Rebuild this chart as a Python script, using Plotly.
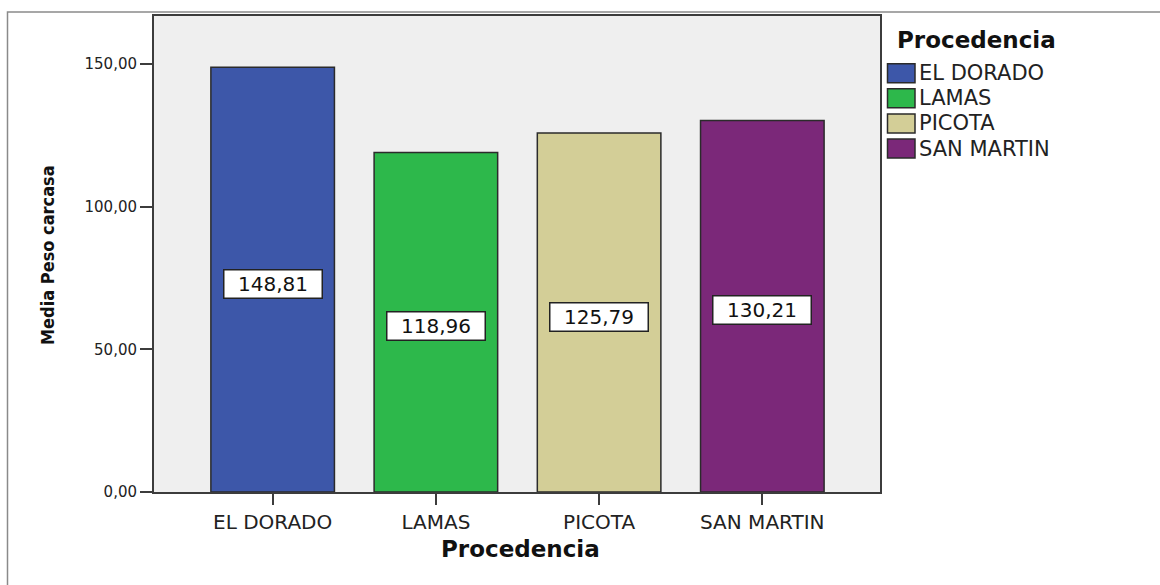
import plotly.graph_objects as go

# Mean carcass weight by origin
categories = ["EL DORADO", "LAMAS", "PICOTA", "SAN MARTIN"]
mean_weight = [148.81, 118.96, 125.79, 130.21]
value_labels = ["148,81", "118,96", "125,79", "130,21"]
bar_colors = ["#3D57A9", "#2DB84B", "#D3CE97", "#7B2879"]
y_tick_values = [0, 50, 100, 150]
y_tick_labels = ["0,00", "50,00", "100,00", "150,00"]

W, H = 1160, 585
M_L, M_R, M_T, M_B = 154, 280, 16, 93
PLOT_W = W - M_L - M_R
PLOT_H = H - M_T - M_B


def px_x(p):
    return (p - M_L) / PLOT_W


def px_y(p):
    return (H - M_B - p) / PLOT_H


fig = go.Figure()
fig.add_trace(go.Bar(
    x=categories,
    y=mean_weight,
    width=0.757,
    marker=dict(color=bar_colors, line=dict(color="#2b2b2b", width=1.5)),
    showlegend=False,
    hoverinfo="x+y",
))

annotations = []
# value boxes in the middle of each bar
for cat, v, lab in zip(categories, mean_weight, value_labels):
    annotations.append(dict(
        x=cat, y=v / 2, xref="x", yref="y", text=lab, showarrow=False,
        yshift=-4, width=95, height=25, align="center",
        bgcolor="white", bordercolor="#222", borderwidth=1.5, borderpad=1,
        font=dict(family="DejaVu Sans", size=20, color="#111"),
    ))

# legend block
annotations.append(dict(
    x=px_x(895), y=px_y(39.5), xref="paper", yref="paper", text="<b>Procedencia</b>",
    showarrow=False, xanchor="left", yanchor="middle",
    font=dict(family="DejaVu Sans", size=23, color="#111"),
))
shapes = []
for i, (cat, col) in enumerate(zip(categories, bar_colors)):
    yc = 73.2 + 25.1 * i
    shapes.append(dict(
        type="rect", xref="paper", yref="paper",
        x0=px_x(887.5), x1=px_x(915), y0=px_y(yc - 9.5), y1=px_y(yc + 9.5),
        fillcolor=col, line=dict(color="#2b2b2b", width=1.5),
    ))
    annotations.append(dict(
        x=px_x(917), y=px_y(yc), xref="paper", yref="paper", text=cat,
        showarrow=False, xanchor="left", yanchor="middle",
        font=dict(family="DejaVu Sans", size=21, color="#222"),
    ))

# axis titles
annotations.append(dict(
    x=px_x(520), y=px_y(549), xref="paper", yref="paper", text="<b>Procedencia</b>",
    showarrow=False, xanchor="center", yanchor="middle",
    font=dict(family="DejaVu Sans", size=23, color="#111"),
))
annotations.append(dict(
    x=px_x(47), y=px_y(255), xref="paper", yref="paper", text="<b>Media Peso carcasa</b>",
    showarrow=False, xanchor="center", yanchor="middle", textangle=-90,
    font=dict(family="DejaVu Sans Condensed, Arial", size=18, color="#111"),
))

# outer frame of the output panel
shapes.append(dict(
    type="path", xref="paper", yref="paper",
    path=f"M {px_x(7.5)},{px_y(H + 5)} L {px_x(7.5)},{px_y(12)} L {px_x(W + 5)},{px_y(12)}",
    line=dict(color="#8a8a8a", width=1.5),
))

fig.update_layout(
    width=W, height=H,
    margin=dict(l=M_L, r=M_R, t=M_T, b=M_B),
    paper_bgcolor="white",
    plot_bgcolor="#EFEFEF",
    annotations=annotations,
    shapes=shapes,
    showlegend=False,
    xaxis=dict(
        range=[-0.727, 3.721],
        showgrid=False, zeroline=False,
        showline=True, linecolor="#3c3c3c", linewidth=2, mirror=True,
        ticks="outside", ticklen=11, tickwidth=2, tickcolor="#3c3c3c",
        tickfont=dict(family="DejaVu Sans", size=20, color="#222"),
    ),
    yaxis=dict(
        range=[0, 166.8],
        tickvals=y_tick_values, ticktext=y_tick_labels,
        showgrid=False, zeroline=False,
        showline=True, linecolor="#3c3c3c", linewidth=2, mirror=True,
        ticks="outside", ticklen=12, tickwidth=2, tickcolor="#3c3c3c",
        tickfont=dict(family="DejaVu Sans", size=15, color="#222"),
    ),
)

fig.write_html("out.html")
